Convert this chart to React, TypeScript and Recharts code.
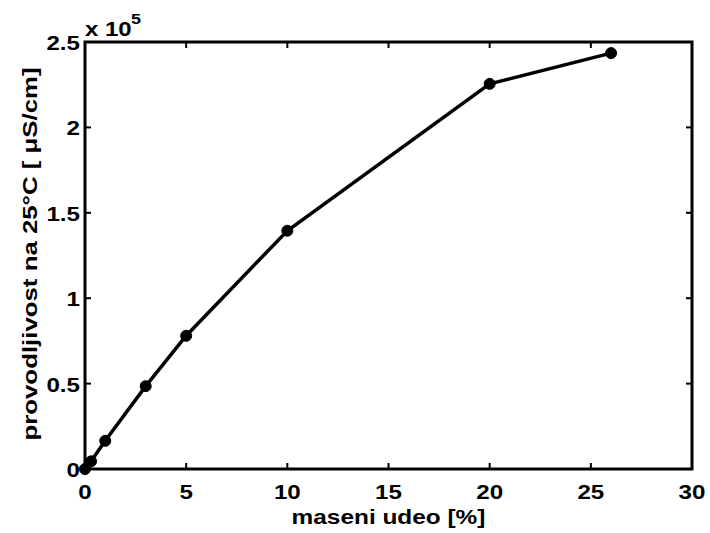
import React from "react";
import { LineChart, Line, XAxis, YAxis, ReferenceArea } from "recharts";

const massFraction = [0, 0.3, 1, 3, 5, 10, 20, 26];
const conductivity = [0, 4500, 16500, 48500, 78000, 139500, 225500, 243500];
const xTicks = [0, 5, 10, 15, 20, 25, 30];
const yTicks = [0, 50000, 100000, 150000, 200000, 250000];
const xLabel = "maseni udeo [%]";
const yLabel = "provodljivost na 25°C [ μS/cm]";

const data = massFraction.map((x, i) => ({ x, y: conductivity[i] }));

const W = 710;
const H = 533;
const AXW = 40;
const AXH = 30;
const M = { top: 42, right: 18, bottom: 64 - AXH, left: 85 - AXW };
const PT = M.top;
const PB = H - 64;
const PL = 85;
const PR = W - M.right;
const SX = 1.2;
const TSX = 1.15;
const FONT = "'Liberation Sans', Arial, sans-serif";
const TL = 6;

const XTick = (props: any) => {
  const { x, y, payload } = props;
  const v = payload.value;
  const inner = v !== xTicks[0] && v !== xTicks[xTicks.length - 1];
  return (
    <g>
      {inner && <line x1={x} x2={x} y1={PB} y2={PB - TL} stroke="#000" strokeWidth={2} />}
      {inner && <line x1={x} x2={x} y1={PT} y2={PT + TL} stroke="#000" strokeWidth={2} />}
      <text
        transform={`translate(${x},${y + 30}) scale(${TSX},1)`}
        textAnchor="middle"
        fontFamily={FONT}
        fontWeight="bold"
        fontSize={21}
        fill="#000"
      >
        {String(v)}
      </text>
    </g>
  );
};

const YTick = (props: any) => {
  const { x, y, payload } = props;
  const v = payload.value;
  const inner = v !== yTicks[0] && v !== yTicks[yTicks.length - 1];
  return (
    <g>
      {inner && <line x1={PL} x2={PL + TL} y1={y} y2={y} stroke="#000" strokeWidth={2} />}
      {inner && <line x1={PR} x2={PR - TL} y1={y} y2={y} stroke="#000" strokeWidth={2} />}
      <text
        transform={`translate(${x - 5},${y + 8}) scale(${TSX},1)`}
        textAnchor="end"
        fontFamily={FONT}
        fontWeight="bold"
        fontSize={21}
        fill="#000"
      >
        {String(v / 1e5)}
      </text>
    </g>
  );
};

export default function App() {
  return (
    <div style={{ position: "absolute", left: 0, top: 0, width: W, height: H, background: "#fff" }}>
      <LineChart width={W} height={H} data={data} margin={M}>
        <XAxis
          dataKey="x"
          type="number"
          domain={[0, 30]}
          ticks={xTicks}
          height={AXH}
          tickSize={0}
          tickMargin={0}
          axisLine={false}
          tickLine={false}
          tick={(p: any) => <XTick {...p} />}
          interval={0}
        />
        <YAxis
          type="number"
          domain={[0, 250000]}
          ticks={yTicks}
          width={AXW}
          tickSize={0}
          tickMargin={0}
          axisLine={false}
          tickLine={false}
          tick={(p: any) => <YTick {...p} />}
          interval={0}
        />
        <ReferenceArea
          x1={0}
          x2={30}
          y1={0}
          y2={250000}
          fill="none"
          fillOpacity={0}
          stroke="#000"
          strokeWidth={3}
          ifOverflow="visible"
        />
        <Line
          type="linear"
          dataKey="y"
          stroke="#000"
          strokeWidth={3.5}
          dot={{ r: 5.5, fill: "#000", stroke: "#000", strokeWidth: 1 }}
          isAnimationActive={false}
        />
      </LineChart>
      <svg
        width={W}
        height={H}
        style={{ position: "absolute", left: 0, top: 0, pointerEvents: "none" }}
      >
        <text
          transform={`translate(${(PL + PR) / 2},524) scale(1.22,1)`}
          textAnchor="middle"
          fontFamily={FONT}
          fontWeight="bold"
          fontSize={20}
          fill="#000"
        >
          {xLabel}
        </text>
        <text
          transform={`translate(37,254) rotate(-90) scale(1.23,1)`}
          textAnchor="middle"
          fontFamily={FONT}
          fontWeight="bold"
          fontSize={21}
          fill="#000"
        >
          {yLabel}
        </text>
        <text
          transform={`translate(85,36) scale(${SX},1)`}
          fontFamily={FONT}
          fontWeight="bold"
          fontSize={20}
          fill="#000"
        >
          x 10
        </text>
        <text
          transform={`translate(131,24) scale(${SX},1)`}
          fontFamily={FONT}
          fontWeight="bold"
          fontSize={15}
          fill="#000"
        >
          5
        </text>
      </svg>
    </div>
  );
}
